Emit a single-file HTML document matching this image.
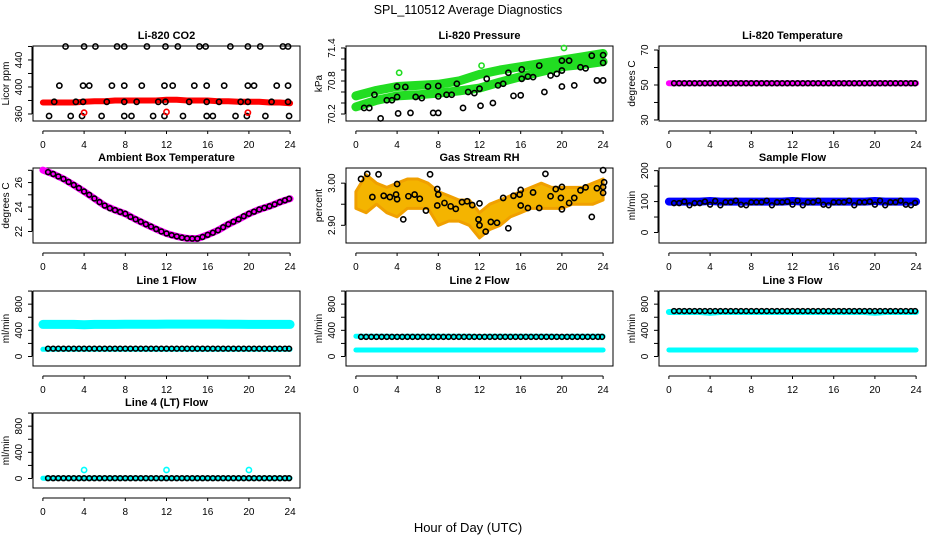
<!DOCTYPE html>
<html><head><meta charset="utf-8"><style>
body{margin:0;background:#fff;}
svg{display:block;font-family:"Liberation Sans",sans-serif;}
</style></head><body>
<svg id="chart" width="936" height="540" viewBox="0 0 936 540">
<text x="468" y="14" text-anchor="middle" font-size="12.5">SPL_110512  Average Diagnostics</text>
<text x="468" y="532" text-anchor="middle" font-size="13">Hour of Day (UTC)</text>
</svg>
<script>
// shared x data
const hourly = [0,1,2,3,4,5,6,7,8,9,10,11,12,13,14,15,16,17,18,19,20,21,22,23,24];
const half = [0.5,1,1.5,2,2.5,3,3.5,4,4.5,5,5.5,6,6.5,7,7.5,8,8.5,9,9.5,10,10.5,11,11.5,12,12.5,13,13.5,14,14.5,15,15.5,16,16.5,17,17.5,18,18.5,19,19.5,20,20.5,21,21.5,22,22.5,23,23.5,23.9];
const xTicks = [0,4,8,12,16,20,24];

// Li-820 CO2
const co2Band = [377,377,377,377,378,379,379,380,380,380,380,380,381,381,380,380,380,379,379,378,378,378,377,377,376];
const co2PtsX = [2.2,4.0,5.1,7.2,7.9,10.1,11.9,13.1,15.2,15.8,18.2,19.9,21.1,23.3,23.8, 1.6,3.9,4.5,6.7,7.9,9.6,11.8,12.6,14.7,15.9,17.6,19.9,20.5,22.7,23.8, 1.1,3.2,3.9,6.2,7.9,9.1,11.2,11.9,14.2,15.9,17.1,19.2,19.9,22.2,23.8, 0.6,2.7,3.8,5.7,7.9,8.6,10.7,11.8,13.6,15.9,16.5,18.7,19.8,21.6,23.9];
const co2PtsY = [460,460,460,460,460,460,460,460,460,460,460,460,460,460,460, 402,402,402,402,402,402,402,402,402,402,402,402,402,402,402, 378,378,378,378,378,378,378,378,378,378,378,378,378,378,378, 357,357,357,357,357,357,357,357,357,357,357,357,357,357,357];
const co2OutX = [4.0,12.0,19.9];
const co2OutY = [362,363,362];

// Li-820 Pressure
const presHours = [0,2,4,6,8,10,12,14,16,18,20,22,24];
const presUpper = [70.53,70.63,70.70,70.72,70.74,70.80,70.92,71.00,71.06,71.12,71.18,71.24,71.30];
const presLower = [70.33,70.45,70.53,70.55,70.58,70.62,70.67,70.78,70.88,70.97,71.06,71.10,71.15];
const presPtsX = [0.8,1.3,1.8,3.0,3.5,4.0,4.0,4.8,2.4,4.1,5.3,5.8,6.4,7.0,7.5,8.0,8.0,8.0,8.8,9.3,9.8,10.4,10.9,11.5,12.0,12.1,12.7,13.3,13.8,14.3,14.8,15.3,16.0,16.1,16.1,16.7,17.2,17.8,18.3,18.9,19.5,20.0,20.0,20.0,20.7,21.2,21.8,22.3,22.9,23.4,24.0,24.0,24.0];
const presPtsY = [70.31,70.31,70.55,70.45,70.45,70.51,70.70,70.69,70.12,70.21,70.22,70.51,70.49,70.70,70.22,70.22,70.52,70.71,70.55,70.55,70.75,70.31,70.60,70.58,70.66,70.35,70.84,70.40,70.72,70.75,70.95,70.53,70.54,71.01,70.84,70.88,70.87,71.08,70.60,70.90,70.93,70.99,70.70,71.17,71.17,70.72,71.05,71.03,71.26,70.81,70.81,71.13,71.27];
const presOutX = [4.2,12.2,20.2,23.4];
const presOutY = [70.95,71.08,71.40,71.17];

// Li-820 Temperature
const tempBand = [51,51,51,51,51,51,51,51,51,51,51,51,51,51,51,51,51,51,51,51,51,51,51,51,51];
const tempPts = [51,51,51,51,51,51,51,51,51,51,51,51,51,51,51,51,51,51,51,51,51,51,51,51,51,51,51,51,51,51,51,51,51,51,51,51,51,51,51,51,51,51,51,51,51,51,51,51];

// Ambient Box Temperature
const ambBand = [27.02,26.7,26.3,25.8,25.27,24.7,24.12,23.75,23.45,23.0,22.59,22.2,21.84,21.6,21.44,21.42,21.73,22.1,22.59,23.0,23.45,23.8,24.07,24.4,24.68];
const ambPts = [26.85,26.7,26.5,26.3,26.05,25.8,25.55,25.27,25.0,24.7,24.4,24.12,23.9,23.75,23.6,23.45,23.2,23.0,22.8,22.59,22.4,22.2,22.0,21.84,21.7,21.6,21.5,21.44,21.42,21.42,21.55,21.73,21.9,22.1,22.35,22.59,22.8,23.0,23.25,23.45,23.62,23.8,23.93,24.07,24.22,24.4,24.55,24.68];

// Gas Stream RH
const rhUpper = [2.98,3.02,3.00,2.99,3.00,3.01,3.01,3.00,2.98,2.97,2.96,2.96,2.93,2.95,2.96,2.97,2.98,2.99,3.00,2.99,2.99,2.99,2.99,3.00,3.01];
const rhLower = [2.94,2.93,2.95,2.93,2.92,2.94,2.94,2.94,2.90,2.91,2.91,2.90,2.87,2.89,2.90,2.92,2.93,2.94,2.94,2.94,2.94,2.95,2.95,2.95,2.96];
const rhPtsX = [0.5,1.1,1.6,2.2,2.7,3.3,3.9,4.0,4.0,4.6,5.1,5.7,6.2,6.8,7.2,7.9,7.9,8.0,8.6,9.2,9.7,10.3,10.8,11.3,12.0,11.9,12.0,12.6,13.1,13.7,14.3,14.8,15.3,15.9,16.0,16.0,16.7,17.2,17.8,18.4,18.9,19.4,19.9,20.0,20.0,20.7,21.2,21.8,22.3,22.9,23.4,24.0,24.1,24.0,24.0];
const rhPtsY = [3.010,3.022,2.967,3.021,2.970,2.967,2.973,2.998,2.962,2.914,2.969,2.973,2.963,2.935,3.021,2.986,2.947,2.973,2.953,2.945,2.939,2.955,2.957,2.948,2.952,2.914,2.900,2.885,2.908,2.906,2.965,2.893,2.970,2.973,2.984,2.947,2.941,2.978,2.941,3.022,2.969,2.986,2.965,2.938,2.991,2.953,2.965,2.983,2.990,2.920,2.988,3.031,3.002,2.977,2.991];

// Sample Flow
const sampleBand = [100,100,100,100,102,100,100,100,100,100,100,100,102,100,100,100,100,100,100,100,102,100,100,100,100];
const samplePts = [95,95,100,88,95,95,100,90,102,88,98,98,103,90,88,98,98,98,103,88,98,98,100,90,103,88,98,98,103,90,88,98,98,98,103,88,98,98,100,90,103,88,98,98,103,90,88,96];

// Line flows
const l1Upper = [490,490,490,490,485,490,490,490,492,492,492,492,495,495,495,495,495,495,492,492,490,490,490,490,490];
const l1Lower = [110,110,110,110,110,110,110,110,110,110,110,110,110,110,110,110,110,110,110,110,110,110,110,110,110];
const l1Pts = [120,120,120,120,120,120,120,120,120,120,120,120,120,120,120,120,120,120,120,120,120,120,120,120,120,120,120,120,120,120,120,120,120,120,120,120,120,120,120,120,120,120,120,120,120,120,120,120];
const l2Upper = [310,310,310,310,305,310,310,310,310,310,310,310,305,310,310,310,310,310,310,310,305,310,310,310,310];
const l2Lower = [100,100,100,100,100,100,100,100,100,100,100,100,100,100,100,100,100,100,100,100,100,100,100,100,100];
const l2Pts = [300,300,300,300,300,300,300,300,300,300,300,300,300,300,300,300,300,300,300,300,300,300,300,300,300,300,300,300,300,300,300,300,300,300,300,300,300,300,300,300,300,300,300,300,300,300,300,300];
const l3Upper = [680,680,680,680,670,680,680,680,680,680,680,680,680,680,680,680,680,680,680,680,670,680,680,680,680];
const l3Lower = [100,100,100,100,100,100,100,100,100,100,100,100,100,100,100,100,100,100,100,100,100,100,100,100,100];
const l3Pts = [695,695,695,695,695,695,695,695,695,695,695,695,695,695,695,695,695,695,695,695,695,695,695,695,695,695,695,695,695,695,695,695,695,695,695,695,695,695,695,695,695,695,695,695,695,695,695,695];
const l4Band = [5,5,5,5,5,5,5,5,5,5,5,5,5,5,5,5,5,5,5,5,5,5,5,5,5];
const l4Pts = [5,5,5,5,5,5,5,5,5,5,5,5,5,5,5,5,5,5,5,5,5,5,5,5,5,5,5,5,5,5,5,5,5,5,5,5,5,5,5,5,5,5,5,5,5,5,5,5];
const l4OutX = [4,12,20];
const l4OutY = [130,130,130];

const flowTicks = [0,200,400,600,800,1000];
const flowLabels = [0,400,800];

const NS = 'http://www.w3.org/2000/svg';
const svg = document.getElementById('chart');
function mk(tag, attrs, parent){
  const e = document.createElementNS(NS, tag);
  for (const k in attrs) e.setAttribute(k, attrs[k]);
  (parent||svg).appendChild(e);
  return e;
}
const ROW_TOP = [46,168,291,413];

function panel(cfg){
  const left = 33 + cfg.col*313, right = left + 267;
  const top = ROW_TOP[cfg.row], bottom = top + 75;
  const xs = h => left + (h + 0.96) / 25.92 * (right - left);
  const ys = v => bottom - (v - cfg.ymin) / (cfg.ymax - cfg.ymin) * (bottom - top);
  const g = mk('g', {});
  
  
  const t = mk('text', {x:(left+right)/2, y: top-7, 'text-anchor':'middle', 'font-size':'11', 'font-weight':'bold'}, g);
  t.textContent = cfg.title;
  
  
  // x axis
  const xa = mk('g', {}, g);
  
  
  mk('line', {x1:xs(0), x2:xs(24), y1:bottom+10, y2:bottom+10, stroke:'#000', 'stroke-width':1}, xa);
  xTicks.forEach(v => {
    mk('line', {x1:xs(v), x2:xs(v), y1:bottom+10, y2:bottom+13, stroke:'#000'}, xa);
    const l = mk('text', {x:xs(v), y:bottom+27, 'text-anchor':'middle', 'font-size':'10'}, xa);
    l.textContent = v;
  });
  // y axis
  const ya = mk('g', {}, g);
  
  
  const yt = cfg.yticks;
  mk('line', {x1:left-1, x2:left-1, y1:ys(yt[0]), y2:ys(yt[yt.length-1]), stroke:'#000'}, ya);
  yt.forEach(v => mk('line', {x1:left-5, x2:left-1, y1:ys(v), y2:ys(v), stroke:'#000'}, ya));
  cfg.ylabels.forEach((v, i) => {
    const l = mk('text', {x:0, y:0, 'text-anchor':'middle', 'font-size':'10',
      transform:`translate(${left-11},${ys(v)}) rotate(-90)`}, ya);
    l.textContent = cfg.ylabelText ? cfg.ylabelText[i] : v;
  });
  const yl = mk('text', {x:0, y:0, 'text-anchor':'middle', 'font-size':'10',
    transform:`translate(${left-24},${(top+bottom)/2}) rotate(-90)`}, g);
  yl.textContent = cfg.ylab;
  
  
  // box
  const bx = mk('rect', {x:left, y:top, width:right-left, height:bottom-top, fill:'none', stroke:'#000'}, g);
  
  
  const clip = mk('g', {}, g);
  // bands
  (cfg.bands||[]).forEach(b => {
    const pts = b.x.map((h,i) => xs(h).toFixed(1)+','+ys(b.y[i]).toFixed(1)).join(' ');
    const pl = mk('polyline', {points:pts, fill:'none', stroke:b.color, 'stroke-width':b.w, 'stroke-linecap':'round', 'stroke-linejoin':'round'}, clip);
    
    
  });
  (cfg.areas||[]).forEach(a => {
    const up = a.x.map((h,i) => xs(h).toFixed(1)+','+ys(a.hi[i]).toFixed(1));
    const lo = a.x.map((h,i) => xs(h).toFixed(1)+','+ys(a.lo[i]).toFixed(1)).reverse();
    const pg = mk('polygon', {points:up.concat(lo).join(' '), fill:a.fill, stroke:a.stroke, 'stroke-width':3, 'stroke-linejoin':'round'}, clip);
    
    
  });
  (cfg.points||[]).forEach(p => {
    p.x.forEach((h,i) => {
      const c = mk('circle', {cx:xs(h), cy:ys(p.y[i]), r:p.r||2.6, fill:'none', stroke:p.color, 'stroke-width':p.sw||1.6}, clip);
      
      
    });
  });
}

panel({name:'co2', title:'Li-820 CO2', col:0, row:0, ymin:349.6, ymax:460.7, yticks:[360,380,400,420,440,460], ylabels:[360,400,440], ylab:'Licor ppm',
  bands:[{x:hourly, y:co2Band, color:'#ff0000', w:6}],
  points:[{x:co2PtsX, y:co2PtsY, color:'#000'},{x:co2OutX, y:co2OutY, color:'#ff0000'}]});
panel({name:'pressure', title:'Li-820 Pressure', col:1, row:0, ymin:70.073, ymax:71.436, yticks:[70.2,70.4,70.6,70.8,71.0,71.2,71.4], ylabels:[70.2,70.8,71.4], ylabelText:['70.2','70.8','71.4'], ylab:'kPa',
  bands:[{x:presHours, y:presUpper, color:'#22dd22', w:9},{x:presHours, y:presLower, color:'#22dd22', w:9}],
  points:[{x:presOutX, y:presOutY, color:'#22dd22'},{x:presPtsX, y:presPtsY, color:'#000'}]});
panel({name:'li820-temperature', title:'Li-820 Temperature', col:2, row:0, ymin:29.4, ymax:72.3, yticks:[30,40,50,60,70], ylabels:[30,50,70], ylab:'degrees C',
  bands:[{x:hourly, y:tempBand, color:'#ff00ff', w:6}],
  points:[{x:half, y:tempPts, color:'#000', r:2.4}]});
panel({name:'ambient-temperature', title:'Ambient Box Temperature', col:0, row:1, ymin:21.06, ymax:27.19, yticks:[22,23,24,25,26,27], ylabels:[22,24,26], ylab:'degrees C',
  bands:[{x:hourly, y:ambBand, color:'#ff00ff', w:7}],
  points:[{x:half, y:ambPts, color:'#000', r:2.4}]});
panel({name:'gas-stream-rh', title:'Gas Stream RH', col:1, row:1, ymin:2.858, ymax:3.036, yticks:[2.90,2.95,3.00], ylabels:[2.90,3.00], ylabelText:['2.90','3.00'], ylab:'percent',
  areas:[{x:hourly, hi:rhUpper, lo:rhLower, fill:'#f4b400', stroke:'#f0a000'}],
  points:[{x:rhPtsX, y:rhPtsY, color:'#000'}]});
panel({name:'sample-flow', title:'Sample Flow', col:2, row:1, ymin:-34, ymax:208.6, yticks:[0,50,100,150,200], ylabels:[0,100,200], ylab:'ml/min',
  bands:[{x:hourly, y:sampleBand, color:'#0000ff', w:8}],
  points:[{x:half, y:samplePts, color:'#000', r:2.4}]});
panel({name:'line1-flow', title:'Line 1 Flow', col:0, row:2, ymin:-145, ymax:1001, yticks:flowTicks, ylabels:flowLabels, ylab:'ml/min',
  bands:[{x:hourly, y:l1Upper, color:'#00ffff', w:9},{x:hourly, y:l1Lower, color:'#00ffff', w:5}],
  points:[{x:half, y:l1Pts, color:'#000', r:2.4}]});
panel({name:'line2-flow', title:'Line 2 Flow', col:1, row:2, ymin:-145, ymax:1001, yticks:flowTicks, ylabels:flowLabels, ylab:'ml/min',
  bands:[{x:hourly, y:l2Upper, color:'#00ffff', w:5},{x:hourly, y:l2Lower, color:'#00ffff', w:5}],
  points:[{x:half, y:l2Pts, color:'#000', r:2.4}]});
panel({name:'line3-flow', title:'Line 3 Flow', col:2, row:2, ymin:-145, ymax:1001, yticks:flowTicks, ylabels:flowLabels, ylab:'ml/min',
  bands:[{x:hourly, y:l3Upper, color:'#00ffff', w:6},{x:hourly, y:l3Lower, color:'#00ffff', w:5}],
  points:[{x:half, y:l3Pts, color:'#000', r:2.4}]});
panel({name:'line4-flow', title:'Line 4 (LT) Flow', col:0, row:3, ymin:-145, ymax:1001, yticks:flowTicks, ylabels:flowLabels, ylab:'ml/min',
  bands:[{x:hourly, y:l4Band, color:'#00ffff', w:5}],
  points:[{x:half, y:l4Pts, color:'#000', r:2.4},{x:l4OutX, y:l4OutY, color:'#00ffff'}]});
</script>
</body></html>
